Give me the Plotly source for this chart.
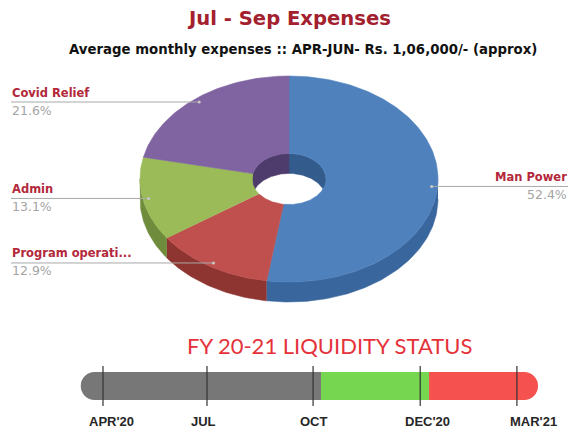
import numpy as np
import plotly.graph_objects as go

# ---------------- data ----------------
categories = ["Man Power", "Program operations", "Admin", "Covid Relief"]
display_labels = ["Man Power", "Program operati...", "Admin", "Covid Relief"]
percent_values = [52.4, 12.9, 13.1, 21.6]

title_text = "Jul - Sep Expenses"
subtitle_text = "Average monthly expenses :: APR-JUN- Rs. 1,06,000/- (approx)"

status_title = "FY 20-21 LIQUIDITY STATUS"
tick_labels = ["APR'20", "JUL", "OCT", "DEC'20", "MAR'21"]
tick_positions = [0.0, 1.0, 2.02, 3.05, 3.98]
phase_names = ["Past", "Safe", "Deficit"]
phase_starts = [-0.214, 2.096, 3.135]
phase_ends = [2.096, 3.135, 4.183]

# ---------------- styles ----------------
top_colors = ["#4F81BD", "#C0504D", "#9BBB59", "#8064A2"]
side_colors = ["#3A669E", "#8E3431", "#6F8B3C", "#5E4880"]
inner_colors = ["#335B8C", "#7A2C2A", "#5F7833", "#4E3C6C"]
phase_colors = ["#777777", "#76D650", "#F5514F"]
label_red = "#B3283A"

W, H = 570, 429
cx, cy = 289.0, 179.0
rx, ry = 149.0, 103.0
hrx, hry = 37.0, 25.6
depth = 20.0

fig = go.Figure()


def arc(a, b, n=None):
    if n is None:
        n = max(4, int(abs(b - a)) + 2)
    return np.linspace(a, b, n)


vals = np.array(percent_values, dtype=float)
cum = np.concatenate([[0], np.cumsum(vals)]) / vals.sum() * 360.0

# outer side wall (front half 90..270)
for i in range(len(vals)):
    a, b = max(cum[i], 90), min(cum[i + 1], 270)
    if b <= a:
        continue
    t = arc(a, b)
    xs = np.concatenate([cx + rx * np.sin(np.radians(t)), cx + rx * np.sin(np.radians(t[::-1]))])
    ys = np.concatenate([cy - ry * np.cos(np.radians(t)), cy - ry * np.cos(np.radians(t[::-1])) + depth])
    fig.add_trace(go.Scatter(x=xs, y=ys, fill="toself", mode="lines",
                             fillcolor=side_colors[i], line=dict(color=side_colors[i], width=0.5),
                             hoverinfo="skip", showlegend=False))

# inner hole wall (back half 270..360 and 0..90)
for i in range(len(vals)):
    for lo, hi in [(270, 360), (0, 90)]:
        a, b = max(cum[i], lo), min(cum[i + 1], hi)
        if b <= a:
            continue
        t = arc(a, b)
        xs = np.concatenate([cx + hrx * np.sin(np.radians(t)), cx + hrx * np.sin(np.radians(t[::-1]))])
        ys = np.concatenate([cy - hry * np.cos(np.radians(t)), cy - hry * np.cos(np.radians(t[::-1])) + depth])
        fig.add_trace(go.Scatter(x=xs, y=ys, fill="toself", mode="lines",
                                 fillcolor=inner_colors[i], line=dict(color=inner_colors[i], width=0.5),
                                 hoverinfo="skip", showlegend=False))

# top faces
for i in range(len(vals)):
    t = arc(cum[i], cum[i + 1])
    xs = np.concatenate([cx + rx * np.sin(np.radians(t)), cx + hrx * np.sin(np.radians(t[::-1]))])
    ys = np.concatenate([cy - ry * np.cos(np.radians(t)), cy - hry * np.cos(np.radians(t[::-1]))])
    xs = np.append(xs, xs[0])
    ys = np.append(ys, ys[0])
    fig.add_trace(go.Scatter(x=xs, y=ys, fill="toself", mode="lines",
                             fillcolor=top_colors[i], line=dict(color=top_colors[i], width=0.6),
                             hoverinfo="skip", showlegend=False, name=categories[i]))

# leader lines + labels
rf = 0.96
annotations = []
for i in range(len(vals)):
    mid = (cum[i] + cum[i + 1]) / 2.0
    axp = cx + rx * rf * np.sin(np.radians(mid))
    ayp = cy - ry * rf * np.cos(np.radians(mid))
    right = np.sin(np.radians(mid)) > 0
    x_end = 568 if right else 11
    fig.add_trace(go.Scatter(x=[axp, x_end], y=[ayp, ayp], mode="lines",
                             line=dict(color="#A8A8A8", width=1), hoverinfo="skip", showlegend=False))
    fig.add_trace(go.Scatter(x=[axp], y=[ayp], mode="markers",
                             marker=dict(size=3, color="#C8C8C8"), hoverinfo="skip", showlegend=False))
    xa = "right" if right else "left"
    xt = 569 if right else 10
    annotations.append(dict(x=xt, y=ayp - 0.5, xref="x", yref="y", text="<b>%s</b>" % display_labels[i],
                            xanchor=xa, yanchor="bottom", showarrow=False,
                            font=dict(family="DejaVu Sans", size=11.5, color=label_red)))
    annotations.append(dict(x=xt, y=ayp - 1.5, xref="x", yref="y", text="%.1f%%" % percent_values[i],
                            xanchor=xa, yanchor="top", showarrow=False,
                            font=dict(family="DejaVu Sans", size=12.5, color="#A5A5A5")))

# ---------------- liquidity bar ----------------
for i in range(len(phase_names)):
    s, e = phase_starts[i], phase_ends[i]
    c = phase_colors[i]
    pieces = []
    if i == 0:
        pieces.append((s, (s + e) / 2, 14))
        pieces.append((s + 0.3, e, 0))
    elif i == len(phase_names) - 1:
        pieces.append(((s + e) / 2, e, 14))
        pieces.append((s, e - 0.3, 0))
    else:
        pieces.append((s, e, 0))
    for ps, pe, rad in pieces:
        fig.add_trace(go.Bar(x=[pe - ps], base=[ps], y=[0], orientation="h", width=1.0,
                             marker=dict(color=c, cornerradius=rad, line=dict(width=0)),
                             xaxis="x2", yaxis="y2", hoverinfo="skip", showlegend=False,
                             name=phase_names[i]))

tx, ty = [], []
for t in tick_positions:
    tx += [t, t, None]
    ty += [-0.714, 0.714, None]
fig.add_trace(go.Scatter(x=tx, y=ty, mode="lines", line=dict(color="#333333", width=1.2),
                         xaxis="x2", yaxis="y2", hoverinfo="skip", showlegend=False))

label_shift = [8, -4, 1, 7, 17]
for t, lab, sh in zip(tick_positions, tick_labels, label_shift):
    annotations.append(dict(x=t, y=-1.27, xref="x2", yref="y2", text="<b>%s</b>" % lab,
                            xshift=sh, xanchor="center", yanchor="middle", showarrow=False,
                            font=dict(family="Liberation Sans Narrow, Arial Narrow, Liberation Sans", size=13,
                                      color="#262626")))

# titles
annotations.append(dict(x=288.5, y=18, xref="x", yref="y", text="<b>%s</b>" % title_text,
                        showarrow=False, xanchor="center", yanchor="middle",
                        font=dict(family="DejaVu Sans", size=19.6, color="#A3202E")))
annotations.append(dict(x=303, y=49, xref="x", yref="y", text="<b>%s</b>" % subtitle_text,
                        showarrow=False, xanchor="center", yanchor="middle",
                        font=dict(family="DejaVu Sans", size=13.3, color="#111111")))
annotations.append(dict(x=329, y=345, xref="x", yref="y", text=status_title,
                        showarrow=False, xanchor="center", yanchor="middle",
                        font=dict(family="Lato", size=22, color="#E5323A")))

u_per_px = 1 / 104.0
fig.update_layout(
    width=W, height=H,
    margin=dict(l=0, r=0, t=0, b=0),
    paper_bgcolor="white", plot_bgcolor="rgba(0,0,0,0)",
    barmode="overlay",
    showlegend=False,
    annotations=annotations,
    xaxis=dict(range=[0, W], visible=False, domain=[0, 1], fixedrange=True),
    yaxis=dict(range=[H, 0], visible=False, domain=[0, 1], fixedrange=True),
    xaxis2=dict(range=[-103 * u_per_px, (W - 103) * u_per_px], visible=False, domain=[0, 1],
                anchor="y2", fixedrange=True),
    yaxis2=dict(range=[-(H - 386) / 28.0, 386 / 28.0], visible=False, domain=[0, 1],
                anchor="x2", fixedrange=True),
)

fig.write_html("out.html", config={"displayModeBar": False},
               post_script="document.body.style.margin='0';document.body.style.overflow='hidden';")
